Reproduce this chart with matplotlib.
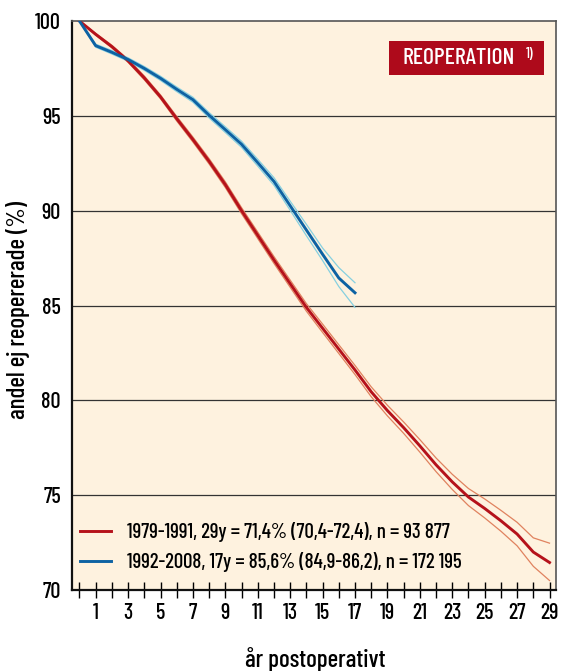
import matplotlib
matplotlib.use("Agg")
import matplotlib.pyplot as plt
from matplotlib import font_manager as fm
from matplotlib.patches import Rectangle

names = {f.name for f in fm.fontManager.ttflist}
FONT = next((n for n in ["Barlow Condensed", "Roboto Condensed", "Archivo Narrow"] if n in names), "DejaVu Sans")
plt.rcParams['font.family'] = [FONT, 'DejaVu Sans']
plt.rcParams['font.weight'] = 500

years_red = list(range(0, 30))
red_mid = [100, 99.3, 98.65, 97.9, 97.0, 96.0, 94.85, 93.75, 92.6, 91.37,
           90.0, 88.7, 87.4, 86.15, 84.9, 83.8, 82.7, 81.6, 80.45, 79.46,
           78.56, 77.6, 76.6, 75.7, 74.9, 74.3, 73.65, 72.95, 72.0, 71.45]
red_up = [100, 99.35, 98.72, 97.98, 97.1, 96.1, 94.97, 93.88, 92.74, 91.52,
          90.16, 88.87, 87.58, 86.34, 85.1, 84.02, 82.93, 81.84, 80.71, 79.74,
          78.86, 77.93, 76.96, 76.1, 75.35, 74.8, 74.2, 73.57, 72.75, 72.47]
red_lo = [100, 99.25, 98.58, 97.82, 96.9, 95.9, 94.73, 93.62, 92.46, 91.22,
          89.84, 88.53, 87.22, 85.96, 84.7, 83.58, 82.47, 81.36, 80.19, 79.18,
          78.26, 77.27, 76.24, 75.3, 74.45, 73.8, 73.1, 72.33, 71.25, 70.5]

years_blue = list(range(0, 18))
blue_mid = [100, 98.7, 98.35, 97.97, 97.5, 96.98, 96.4, 95.85, 95.03, 94.27,
            93.5, 92.53, 91.54, 90.26, 88.98, 87.7, 86.45, 85.67]
blue_up = [100, 98.78, 98.44, 98.06, 97.6, 97.09, 96.52, 95.98, 95.17, 94.42,
           93.66, 92.71, 91.74, 90.5, 89.28, 88.03, 87.0, 86.2]
blue_lo = [100, 98.62, 98.26, 97.88, 97.4, 96.87, 96.28, 95.72, 94.89, 94.12,
           93.34, 92.35, 91.34, 90.02, 88.68, 87.37, 86.0, 84.9]

legend_labels = ["1979-1991, 29y = 71,4% (70,4-72,4), n = 93 877",
                 "1992-2008, 17y = 85,6% (84,9-86,2), n = 172 195"]
yticks = [70, 75, 80, 85, 90, 95, 100]

RED = "#b5121b"
RED_CI = "#e0825f"
BLUE = "#0d62a3"
BLUE_CI = "#86d0e0"
BG = "#fef2df"

W, H = 561, 671
fig = plt.figure(figsize=(W/100, H/100), dpi=100)
L, R, T, B = 72, 556, 21, 590
ax = fig.add_axes([L/W, 1-B/H, (R-L)/W, (B-T)/H])
ax.set_facecolor(BG)

ax.plot(years_red, red_up, color=RED_CI, lw=0.9, zorder=3)
ax.plot(years_red, red_lo, color=RED_CI, lw=0.9, zorder=3)
ax.plot(years_blue, blue_up, color=BLUE_CI, lw=0.9, zorder=3)
ax.plot(years_blue, blue_lo, color=BLUE_CI, lw=0.9, zorder=3)
l1, = ax.plot(years_red, red_mid, color=RED, lw=2.1, zorder=4, label=legend_labels[0])
l2, = ax.plot(years_blue, blue_mid, color=BLUE, lw=2.1, zorder=4, label=legend_labels[1])

ax.set_xlim(-0.46, 29.4)
ax.set_ylim(70, 100)
for y in yticks[1:-1]:
    ax.axhline(y, color="#333333", lw=0.9, zorder=1)

ax.set_yticks(yticks)
ax.set_yticklabels([str(v) for v in yticks], fontsize=16)
ax.tick_params(axis='y', length=0, pad=8)
ax.set_xticks(range(0, 30))
ax.set_xticklabels(["" if i % 2 == 0 else str(i) for i in range(0, 30)], fontsize=16)
ax.tick_params(axis='x', direction='inout', length=11, width=1, pad=4)

for s in ['left', 'bottom']:
    ax.spines[s].set_color('#111111')
    ax.spines[s].set_linewidth(1.6)
for s in ['top', 'right']:
    ax.spines[s].set_color('#555555')
    ax.spines[s].set_linewidth(1.2)

fig.text(315/W, 1-660/H, "år postoperativt", fontsize=18, ha='center', va='center')
fig.text(18/W, 1-310/H, "andel ej reopererade (%)", fontsize=18, ha='center', va='center',
         rotation=90)

leg = ax.legend(handles=[l1, l2], loc='center left',
                bbox_to_anchor=((80-L)/(R-L), (B-547)/(B-T)),
                frameon=False, fontsize=15, handlelength=1.5, handletextpad=0.75,
                labelspacing=0.5, borderaxespad=0, borderpad=0)

ax.add_patch(Rectangle(((389-L)/(R-L), (B-75)/(B-T)), (544-389)/(R-L), 34/(B-T),
                       transform=ax.transAxes, fc='#ae0a1b', ec='none', zorder=5))
ax.text((402-L)/(R-L), (B-58)/(B-T), "REOPERATION", transform=ax.transAxes, fontsize=17,
        color='white', ha='left', va='center', zorder=6)
ax.text((526-L)/(R-L), (B-54)/(B-T), "1)", transform=ax.transAxes, fontsize=10.5,
        color='white', ha='left', va='center', zorder=6)

fig.savefig("out.png", dpi=100, facecolor='white')
